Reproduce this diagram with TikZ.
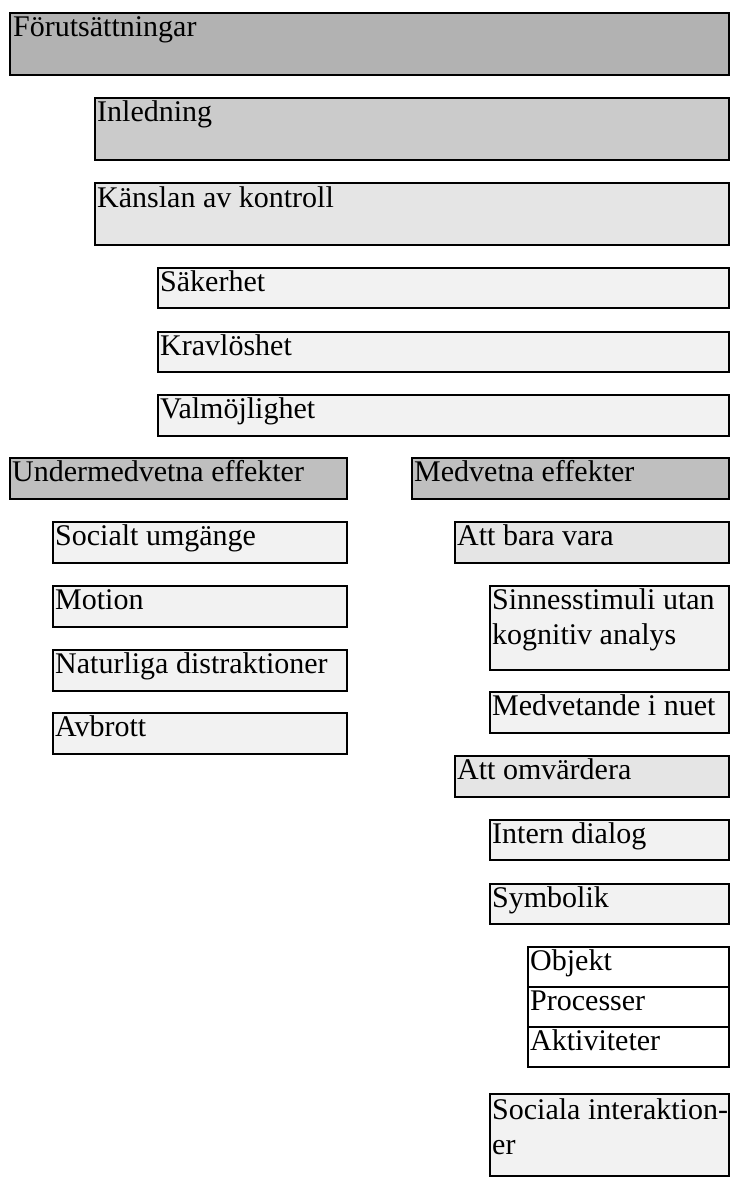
\documentclass[tikz,border=0pt]{standalone}
\usepackage{fontspec}
\setmainfont{Liberation Serif}
\definecolor{gA}{HTML}{B2B2B2}
\definecolor{gB}{HTML}{CBCBCB}
\definecolor{gC}{HTML}{E5E5E5}
\definecolor{gD}{HTML}{F2F2F2}
\definecolor{gE}{HTML}{BFBFBF}
\begin{document}
\begin{tikzpicture}[x=1pt,y=-1pt,
  boxbase/.style={draw=black, line width=1.6pt, inner sep=0pt, outer sep=0pt, anchor=north west, rectangle},
  lbl/.style={anchor=base west, inner sep=0pt, font=\fontsize{30}{35}\selectfont},
]
\useasboundingbox (0,0) rectangle (731,1180);
% boxes: name, x, y, w, h, fill
\node[boxbase, fill=gA, minimum width=719pt, minimum height=62pt] (pre) at (10,13) {};
\node[lbl] (preT) at ([xshift=3pt,yshift=-24pt]pre.north west) {Förutsättningar};

\node[boxbase, fill=gB, minimum width=634pt, minimum height=62pt] (inl) at (95,98) {};
\node[lbl] (inlT) at ([xshift=2pt,yshift=-24pt]inl.north west) {Inledning};

\node[boxbase, fill=gC, minimum width=634pt, minimum height=62pt] (kan) at (95,183) {};
\node[lbl] (kanT) at ([xshift=2pt,yshift=-24pt]kan.north west) {Känslan av kontroll};

\node[boxbase, fill=gD, minimum width=571pt, minimum height=40pt] (sak) at (158,268) {};
\node[lbl] (sakT) at ([xshift=2pt,yshift=-23pt]sak.north west) {Säkerhet};

\node[boxbase, fill=gD, minimum width=571pt, minimum height=40pt] (kra) at (158,332) {};
\node[lbl] (kraT) at ([xshift=2pt,yshift=-23pt]kra.north west) {Kravlöshet};

\node[boxbase, fill=gD, minimum width=571pt, minimum height=41pt] (val) at (158,395) {};
\node[lbl] (valT) at ([xshift=2pt,yshift=-23pt]val.north west) {Valmöjlighet};

\node[boxbase, fill=gE, minimum width=337pt, minimum height=41pt] (und) at (10,458) {};
\node[lbl] (undT) at ([xshift=2pt,yshift=-23pt]und.north west) {Undermedvetna effekter};

\node[boxbase, fill=gE, minimum width=317pt, minimum height=41pt] (med) at (412,458) {};
\node[lbl] (medT) at ([xshift=2pt,yshift=-23pt]med.north west) {Medvetna effekter};

\node[boxbase, fill=gD, minimum width=294pt, minimum height=41pt] (soc) at (53,522) {};
\node[lbl] (socT) at ([xshift=2pt,yshift=-23pt]soc.north west) {Socialt umgänge};

\node[boxbase, fill=gD, minimum width=294pt, minimum height=41pt] (mot) at (53,586) {};
\node[lbl] (motT) at ([xshift=2pt,yshift=-23pt]mot.north west) {Motion};

\node[boxbase, fill=gD, minimum width=294pt, minimum height=41pt] (nat) at (53,650) {};
\node[lbl] (natT) at ([xshift=2pt,yshift=-23pt]nat.north west) {Naturliga distraktioner};

\node[boxbase, fill=gD, minimum width=294pt, minimum height=41pt] (avb) at (53,713) {};
\node[lbl] (avbT) at ([xshift=2pt,yshift=-23pt]avb.north west) {Avbrott};

\node[boxbase, fill=gC, minimum width=274pt, minimum height=41pt] (att) at (455,522) {};
\node[lbl] (attT) at ([xshift=2pt,yshift=-23pt]att.north west) {Att bara vara};

\node[boxbase, fill=gD, minimum width=239pt, minimum height=84pt] (sin) at (490,586) {};
\node[lbl] (sinT) at ([xshift=2pt,yshift=-23pt]sin.north west) {\parbox[t]{236pt}{Sinnesstimuli utan\\kognitiv analys}};

\node[boxbase, fill=gD, minimum width=239pt, minimum height=41pt] (nue) at (490,692) {};
\node[lbl] (nueT) at ([xshift=2pt,yshift=-23pt]nue.north west) {Medvetande i nuet};

\node[boxbase, fill=gC, minimum width=274pt, minimum height=41pt] (omv) at (455,756) {};
\node[lbl] (omvT) at ([xshift=2pt,yshift=-23pt]omv.north west) {Att omvärdera};

\node[boxbase, fill=gD, minimum width=239pt, minimum height=40pt] (int) at (490,820) {};
\node[lbl] (intT) at ([xshift=2pt,yshift=-23pt]int.north west) {Intern dialog};

\node[boxbase, fill=gD, minimum width=239pt, minimum height=40pt] (sym) at (490,884) {};
\node[lbl] (symT) at ([xshift=2pt,yshift=-23pt]sym.north west) {Symbolik};

\node[boxbase, fill=white, minimum width=201pt, minimum height=40pt] (obj) at (528,947) {};
\node[lbl] (objT) at ([xshift=2pt,yshift=-23pt]obj.north west) {Objekt};

\node[boxbase, fill=white, minimum width=201pt, minimum height=40pt] (pro) at (528,987) {};
\node[lbl] (proT) at ([xshift=2pt,yshift=-23pt]pro.north west) {Processer};

\node[boxbase, fill=white, minimum width=201pt, minimum height=40pt] (akt) at (528,1027) {};
\node[lbl] (aktT) at ([xshift=2pt,yshift=-23pt]akt.north west) {Aktiviteter};

\node[boxbase, fill=gD, minimum width=239pt, minimum height=82pt] (sia) at (490,1094) {};
\node[lbl] (siaT) at ([xshift=2pt,yshift=-25pt]sia.north west) {\parbox[t]{236pt}{Sociala interaktion-\\er}};
\end{tikzpicture}
\end{document}
